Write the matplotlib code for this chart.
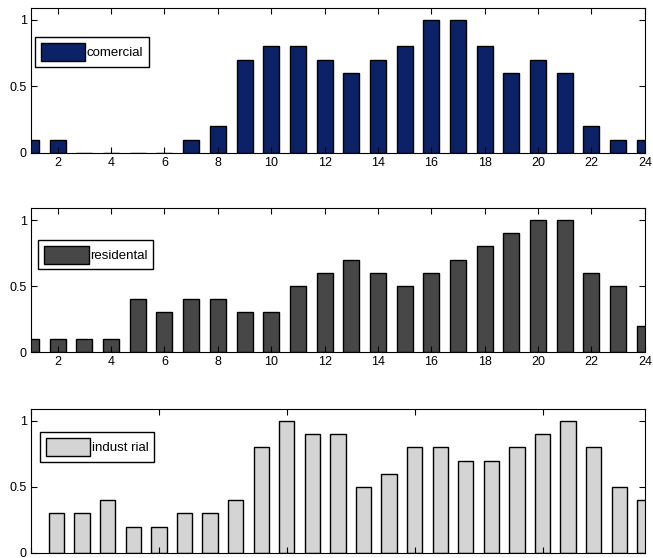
import matplotlib
matplotlib.use("Agg")
import matplotlib.pyplot as plt
import numpy as np

hours = np.arange(1, 25)

comercial = [0.1, 0.1, 0, 0, 0, 0, 0.1, 0.2, 0.7, 0.8, 0.8, 0.7,
             0.6, 0.7, 0.8, 1.0, 1.0, 0.8, 0.6, 0.7, 0.6, 0.2, 0.1, 0.1]
residental = [0.1, 0.1, 0.1, 0.1, 0.4, 0.3, 0.4, 0.4, 0.3, 0.3, 0.5, 0.6,
              0.7, 0.6, 0.5, 0.6, 0.7, 0.8, 0.9, 1.0, 1.0, 0.6, 0.5, 0.2]
industrial = [0.3, 0.3, 0.4, 0.2, 0.2, 0.3, 0.3, 0.4, 0.8, 1.0, 0.9, 0.9,
              0.5, 0.6, 0.8, 0.8, 0.7, 0.7, 0.8, 0.9, 1.0, 0.8, 0.5, 0.4]

labels = ["comercial", "residental", "indust rial"]
colors = ["#0b2266", "#474747", "#d4d4d4"]

plt.rcParams["font.family"] = ["Liberation Sans", "DejaVu Sans"]
plt.rcParams["font.size"] = 9

fig = plt.figure(figsize=(6.53, 5.58), dpi=100)

# axes boxes in figure fractions: [left, bottom, width, height]
boxes = [
    [0.0475, 0.726, 0.940, 0.260],
    [0.0475, 0.369, 0.940, 0.258],
    [0.0475, 0.009, 0.940, 0.258],
]
legend_pos = [(0.006, 0.80), (0.011, 0.78), (0.014, 0.84)]

series = [comercial, residental, industrial]
for i, (vals, lab, col) in enumerate(zip(series, labels, colors)):
    ax = fig.add_axes(boxes[i])
    ax.bar(hours, vals, width=0.6, color=col, edgecolor="black",
           linewidth=1.0, label=lab)
    ax.set_ylim(0, 1.09)
    ax.set_yticks([0, 0.5, 1])
    ax.set_yticklabels(["0", "0.5", "1"])
    if i < 2:
        ax.set_xlim(1, 24)
        ax.set_xticks(np.arange(2, 25, 2))
    else:
        # bottom panel: the tick labels fall below the cropped image edge
        ax.set_xlim(0, 24)
        ax.set_xticks([0, 5, 10, 15, 20])
        ax.tick_params(labelbottom=False)
    ax.tick_params(direction="in", length=4, width=0.8, top=True, right=True,
                   labelsize=9, pad=3, colors="black")
    for s in ax.spines.values():
        s.set_linewidth(0.8)
    leg = ax.legend(loc="upper left", bbox_to_anchor=legend_pos[i],
                    borderaxespad=0, handlelength=3.4, handleheight=1.7,
                    handletextpad=0.1, borderpad=0.45, fancybox=False,
                    framealpha=1, edgecolor="black", fontsize=9.5)
    leg.get_frame().set_linewidth(1.0)

fig.savefig("out.png", dpi=100)
